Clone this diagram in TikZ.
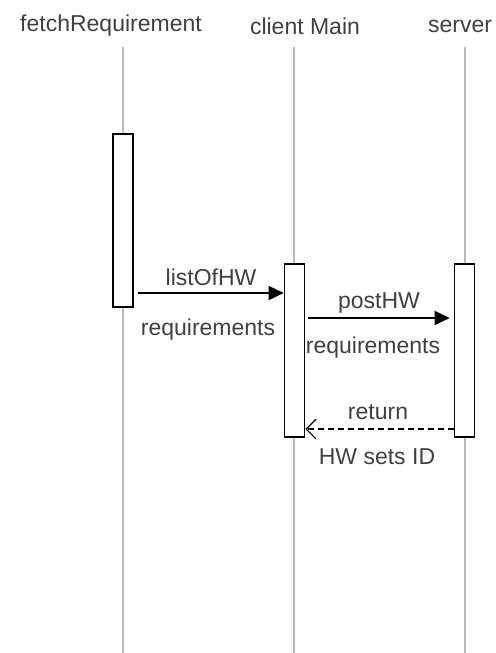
\documentclass[tikz,border=0pt]{standalone}
\usepackage{fontspec}
\setmainfont{Liberation Sans}
\usetikzlibrary{arrows.meta}
\begin{document}
\begin{tikzpicture}[x=0.5pt,y=-0.5pt,
  txt/.style={font=\fontsize{11.5}{14}\selectfont,text=black!75,inner sep=0pt},
  lifeline/.style={gray!55,line width=0.6pt},
  actbox/.style={draw,line width=0.8pt,fill=white,minimum width=10pt,minimum height=86.5pt,inner sep=0pt},
  call/.style={line width=0.8pt,-{Triangle[length=7.5pt,width=7pt]}},
  reply/.style={line width=0.6pt,dashed,dash pattern=on 3pt off 2pt,-{Straight Barb[length=5pt,width=10pt]}}]
\useasboundingbox (0,0) rectangle (496,653);

\node[txt] (fetch) at (111,26) {fetchRequirement};
\node[txt] (client) at (305,26) {client Main};
\node[txt] (server) at (460,26) {server};

\coordinate (fetchTop) at (123,47);
\coordinate (clientTop) at (294,47);
\coordinate (serverTop) at (465,47);

\foreach \s in {fetch,client,server}
  \draw[lifeline] (\s Top) -- ++(0,606);

\node[actbox] (fetchBox) at (123,220.5) {};
\node[actbox] (clientBox) at (294.5,350.5) {};
\node[actbox] (serverBox) at (464.5,350.5) {};

\coordinate (listY) at (0,293);
\coordinate (postY) at (0,318);
\coordinate (retY) at (0,429);

\draw[call] ([xshift=2pt]fetchBox.east |- listY) -- (clientBox.west |- listY);
\draw[call] ([xshift=1.5pt]clientBox.east |- postY) -- ([xshift=-2pt]serverBox.west |- postY);
\draw[reply] (serverBox.west |- retY) -- (clientBox.east |- retY);

\node[txt] (listLbl) at (211,277) {listOfHW};
\node[txt] (listReq) at (208,330) {requirements};
\node[txt] (postLbl) at (379,303) {postHW};
\node[txt] (postReq) at (373,348) {requirements};
\node[txt] (retLbl) at (378,412) {return};
\node[txt] (retId) at (377,457) {HW sets ID};
\end{tikzpicture}
\end{document}
